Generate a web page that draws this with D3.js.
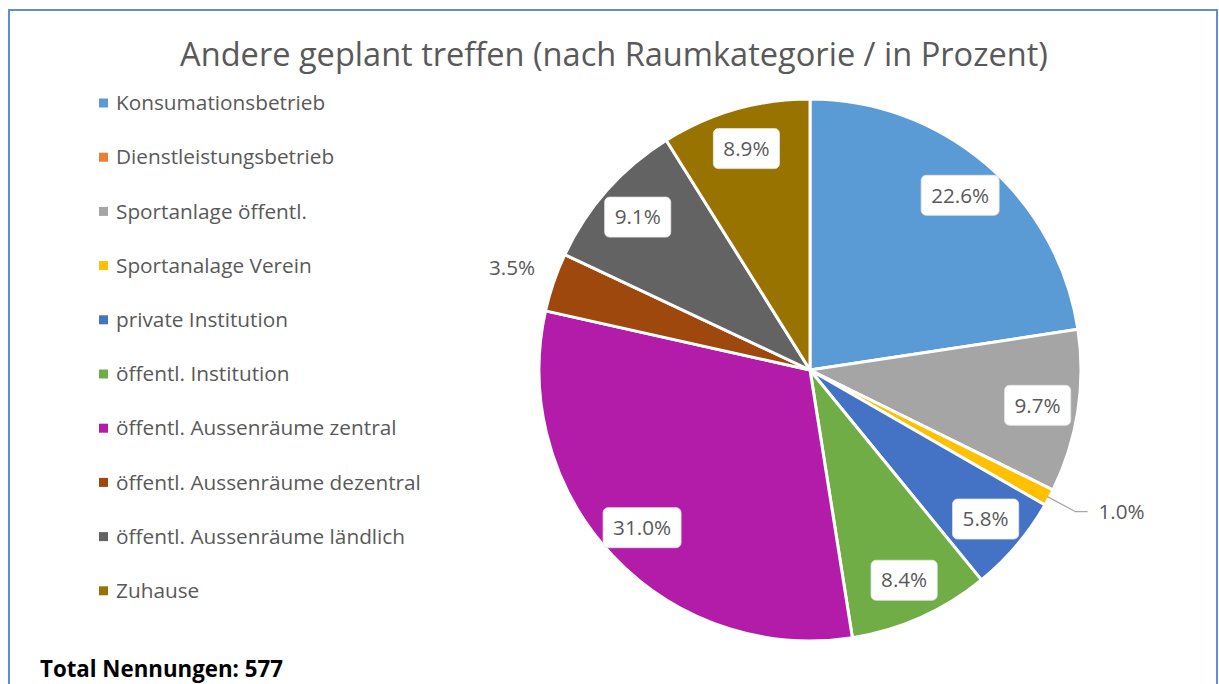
<!DOCTYPE html>
<html>
<head>
<meta charset="utf-8">
<script src="https://cdn.jsdelivr.net/npm/d3@7"></script>
<style>
  body { margin: 0; background: #fff; }
  svg { display: block; font-family: "Open Sans", Lato, sans-serif; }
</style>
</head>
<body>
<script>
const categories = ["Konsumationsbetrieb", "Dienstleistungsbetrieb", "Sportanlage öffentl.", "Sportanalage Verein",
   "private Institution", "öffentl. Institution", "öffentl. Aussenräume zentral", "öffentl. Aussenräume dezentral",
   "öffentl. Aussenräume ländlich", "Zuhause"];
const percents = [22.6, 0, 9.7, 1.0, 5.8, 8.4, 31.0, 3.5, 9.1, 8.9];
const colors = ["#5B9BD5", "#ED7D31", "#A5A5A5", "#FFC000", "#4472C4", "#70AD47", "#B31CA9", "#9E480E", "#636363", "#997300"];
const outsideLabels = ["Sportanalage Verein", "öffentl. Aussenräume dezentral"];
const titleText = "Andere geplant treffen (nach Raumkategorie / in Prozent)";
const totalText = "Total Nennungen: 577";

const W = 1219, H = 684;
const svg = d3.select("body").append("svg").attr("width", W).attr("height", H);

// font size that makes a sample string a given width
function fitSize(str, width, weight) {
   const t = svg.append("text").style("font-size", "20px").style("font-weight", weight || "normal").text(str);
   const w = t.node().getComputedTextLength();
   t.remove();
   return 20 * width / w;
}
const legendSize = fitSize("öffentl. Aussenräume dezentral", 305);
const labelSize = fitSize("22.6%", 58);
const totalSize = fitSize(totalText, 243, "bold");
const titleSize = fitSize(titleText, 868);

// frame
svg.append("rect")
   .attr("x", 9).attr("y", 10).attr("width", 1208).attr("height", 700)
   .attr("fill", "none").attr("stroke", "#5B8FD6").attr("stroke-width", 2);

// title
svg.append("text")
   .attr("x", 614).attr("y", 66)
   .attr("text-anchor", "middle")
   .attr("fill", "#595959")
   .style("font-size", titleSize + "px")
   .text(titleText);

// pie
const cx = 810, cy = 370, r = 271;
const data = categories.map((c, i) => ({ name: c, value: percents[i], color: colors[i] }));
const pie = d3.pie().sort(null).value(d => d.value);
const arcs = pie(data);
const arc = d3.arc().innerRadius(0).outerRadius(r);
const labelArc = d3.arc().innerRadius(r * 0.85).outerRadius(r * 0.85);
const outerArc = d3.arc().innerRadius(r + 44).outerRadius(r + 44);

const g = svg.append("g").attr("transform", `translate(${cx},${cy})`);

g.selectAll("path.slice")
   .data(arcs.filter(d => d.data.value > 0))
   .enter().append("path")
   .attr("class", "slice")
   .attr("d", arc)
   .attr("fill", d => d.data.color)
   .attr("stroke", "#fff")
   .attr("stroke-width", 3)
   .attr("stroke-linejoin", "round");

// inside labels with boxes
const inside = arcs.filter(d => d.data.value > 0 && !outsideLabels.includes(d.data.name));
const lab = g.selectAll("g.lab")
   .data(inside)
   .enter().append("g")
   .attr("class", "lab")
   .attr("transform", d => `translate(${labelArc.centroid(d)})`);

lab.append("text")
   .attr("text-anchor", "middle")
   .attr("dy", "0.35em")
   .attr("fill", "#595959")
   .style("font-size", labelSize + "px")
   .text(d => d.data.value.toFixed(1) + "%");

lab.each(function() {
   const t = d3.select(this).select("text");
   const b = t.node().getBBox();
   d3.select(this).insert("rect", "text")
      .attr("x", b.x - 10).attr("y", -20)
      .attr("width", b.width + 20).attr("height", 40)
      .attr("rx", 5)
      .attr("fill", "#fff")
      .attr("stroke", "#e6e6e6")
      .attr("stroke-width", 0.8);
});

// outside labels
const outside = arcs.filter(d => outsideLabels.includes(d.data.name));
outside.forEach(d => {
   if (d.data.name === "Sportanalage Verein") {
      const p0 = d3.arc().innerRadius(r - 2).outerRadius(r - 2).centroid(d);
      const p1 = d3.arc().innerRadius(r + 30).outerRadius(r + 30).centroid(d);
      const p2 = [p1[0] + 12, p1[1]];
      g.append("polyline")
         .attr("points", [p0, p1, p2].map(p => p.join(",")).join(" "))
         .attr("fill", "none").attr("stroke", "#A6A6A6").attr("stroke-width", 1.2);
      g.append("text")
         .attr("x", p2[0] + 11).attr("y", p2[1])
         .attr("dy", "0.35em")
         .attr("fill", "#595959")
         .style("font-size", labelSize + "px")
         .text(d.data.value.toFixed(1) + "%");
   } else {
      const p = outerArc.centroid(d);
      g.append("text")
         .attr("x", p[0]).attr("y", p[1])
         .attr("text-anchor", "middle")
         .attr("dy", "0.35em")
         .attr("fill", "#595959")
         .style("font-size", labelSize + "px")
         .text(d.data.value.toFixed(1) + "%");
   }
});

// legend
const legend = svg.append("g").attr("transform", "translate(99, 103)");
const rows = legend.selectAll("g")
   .data(data)
   .enter().append("g")
   .attr("transform", (d, i) => `translate(0, ${i * 54.2})`);

rows.append("rect")
   .attr("x", 0).attr("y", -4.5)
   .attr("width", 9).attr("height", 9)
   .attr("fill", d => d.color);

rows.append("text")
   .attr("x", 17).attr("dy", "0.35em")
   .attr("fill", "#595959")
   .style("font-size", legendSize + "px")
   .text(d => d.name);

// total
svg.append("text")
   .attr("x", 40).attr("y", 677)
   .attr("fill", "#000")
   .style("font-size", totalSize + "px")
   .style("font-weight", "bold")
   .text(totalText);
</script>
</body>
</html>
